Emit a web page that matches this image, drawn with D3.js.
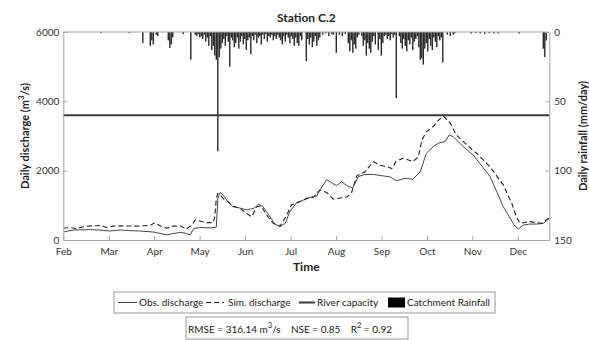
<!DOCTYPE html>
<html><head><meta charset="utf-8">
<script src="https://cdn.jsdelivr.net/npm/d3@7"></script>
<style>body{margin:0;background:#fff;} svg{display:block;font-family:Lato,"Noto Sans",sans-serif;}</style>
</head><body><svg id="c" width="589" height="340"></svg>
<script>
// ---------- data ----------
const months = ["Feb","Mar","Apr","May","Jun","Jul","Aug","Sep","Oct","Nov","Dec"];
const daysPerTick = 30.3;
const dayMax = 324;
const leftTicks = [0, 2000, 4000, 6000];
const rightTicks = [0, 50, 100, 150];
const riverCapacity = 3600;

const obsDay = [0,4.5,8,18,24.5,31,38,44.5,51,60,64.5,69,73,78,82,84.5,87,91,98,102,103,104.5,106.5,109,113,118,122,127,130,133,137,141,144.5,148,151,155.6,160,164.5,169,171,175.6,179,182,185.6,190,193,196.7,201,206.7,213,218,222,228,233,238,242,247,251,254.5,257.3,260,266.7,273.3,282,284.5,289,293.3,298,301,303.5,306.7,311,315.6,320,324];
const obsQ   = [230,270,290,300,285,260,290,270,260,230,190,150,180,220,190,150,330,360,350,370,1200,1370,1300,1150,960,920,870,910,1030,970,720,460,390,480,820,1080,1150,1230,1270,1440,1740,1650,1570,1680,1540,1510,1830,1890,1890,1850,1820,1710,1780,1750,1970,2500,2710,2810,2840,3030,2980,2690,2450,1970,1830,1390,960,620,400,320,430,460,460,480,620];

const simDay = [0,4.5,8,14.5,20,24.5,29,33,38,48,58,61,64.5,69,73,78,82,86,88,91,95.6,100,101,102,103,104.5,106.5,109,113,118,122,125.6,129,132,135.6,140,144.5,149,152,157.8,162,166.7,171,175.6,180,184.5,189,192,195.6,201,206.7,211,215.6,219,222,226.7,230,233,236.7,239,242,247,250,253.3,258,262,269,275.6,284.5,293.3,299,302,304.5,306.7,311,318.9,322,324];
const simQ   = [340,360,330,390,410,420,360,400,410,400,420,500,410,340,400,410,310,450,580,550,500,500,670,1200,1340,1300,1200,1130,980,910,770,670,960,980,720,480,400,720,1010,1100,1200,1230,1440,1370,1180,1210,1240,1340,1850,1960,2260,2160,2120,2060,2280,2360,2310,2260,2400,2880,3120,3290,3450,3580,3370,3030,2740,2500,2110,1590,1060,670,480,500,530,480,580,640];

const rainDay = [25,44,53,58,59,60,62,63,70,71,72,73,80,85,88,89,90,91,92,93,94,95,96,97,98,99,100,101,102,103,104,105,106,107,108,109,110,111,112,113,114,115,116,117,118,119,120,121,122,123,124,125,126,127,128,129,130,131,132,133,134,135,136,137,138,139,140,141,142,143,144,145,146,147,148,149,150,151,152,153,154,155,156,157,158,159,162,163,164,165,166,167,168,169,170,171,173,175,177,179,180,182,184,186,188,190,191,192,193,194,195,196,197,199,200,201,202,203,204,205,206,207,208,210,211,212,213,214,215,216,217,218,219,220,221,222,224,225,226,227,228,229,230,231,232,233,234,235,236,237,238,239,240,241,242,243,244,245,246,247,248,249,250,251,252,253,256,258,260,261,272,275,278,281,284,287,290,304,320,321,322];
const rainMm  = [0.8,0.8,8,10,6,9,2,3,6,11.5,9,4,1.5,20,2,3,1.5,4,3,5,2,7,4,10,3,13,10,17,20,86,18,12,8,5,10,3,7,25,4,6,11,8,4,12,7,3,9,5,13,6,4,16,3,6,2,8,4,3,9,2,5,1.5,7,3,4,2,6,3,5,2,4,6,9,3,7,2,4,8,3,5,10,4,8,10,3,6,21,5,9,4,11,7,3,10,6,4,2,1,3,1.5,2,15,2,3,1.5,8,14,6,15,9,12,4,2,3,10,6,17,8,12,15,7,3,9,13,5,17,8,3,2,5,3,6,1.5,4,2,47.6,3,8,12,5,10,14,6,9,4,13,7,5,3,11,20,19,23.5,12,8,14,5,10,13,4,7,11,3,6,4,22,2,3,2,1,1,0.8,1,1.5,0.8,1,1,1,12,18,6];

// ---------- layout ----------
const L = 63.3, R = 549.3, T = 32, B = 240;
const svg = d3.select("#c");
const x = d3.scaleLinear().domain([0, dayMax]).range([L, R]);
const y = d3.scaleLinear().domain([0, 6000]).range([B, T]);
const yR = d3.scaleLinear().domain([0, 150]).range([T, B]);
const axisCol = "#a6a6a6", txtCol = "#333";

svg.append("defs").append("clipPath").attr("id","clip")
  .append("rect").attr("x",L).attr("y",T).attr("width",R-L).attr("height",B-T);

// rainfall bars
svg.append("g").attr("clip-path","url(#clip)").selectAll("rect").data(rainDay.map((d,i)=>({d, v:rainMm[i]})))
  .join("rect")
  .attr("x", d => x(d.d) - 0.7).attr("width", 1.4)
  .attr("y", yR(0)).attr("height", d => yR(d.v) - yR(0))
  .attr("fill", "#2a2a2a");

// river capacity
svg.append("line").attr("x1",L).attr("x2",R).attr("y1",y(riverCapacity)).attr("y2",y(riverCapacity))
  .attr("stroke","#3a3a3a").attr("stroke-width",2);

const line = d3.line().x(d=>x(d[0])).y(d=>y(d[1]));
svg.append("path").datum(simDay.map((d,i)=>[d, simQ[i]])).attr("d", line)
  .attr("fill","none").attr("stroke","#222").attr("stroke-width",1.1).attr("stroke-dasharray","5,3").attr("clip-path","url(#clip)");
svg.append("path").datum(obsDay.map((d,i)=>[d, obsQ[i]])).attr("d", line)
  .attr("fill","none").attr("stroke","#333").attr("stroke-width",0.9).attr("clip-path","url(#clip)");

// axes
function style(g){
  g.selectAll(".domain").attr("stroke", axisCol);
  g.selectAll(".tick line").attr("stroke", axisCol);
  g.selectAll(".tick text").attr("fill", txtCol).attr("font-size", 10).attr("font-family","Lato, sans-serif");
}
svg.append("g").attr("transform",`translate(${L},0)`)
  .call(d3.axisLeft(y).tickValues(leftTicks).tickFormat(d3.format("d")).tickSizeInner(-4).tickSizeOuter(0).tickPadding(4)).call(style);
svg.append("g").attr("transform",`translate(${R},0)`)
  .call(d3.axisRight(yR).tickValues(rightTicks).tickFormat(d3.format("d")).tickSizeInner(-4).tickSizeOuter(0).tickPadding(5)).call(style);
svg.append("g").attr("transform",`translate(0,${B})`)
  .call(d3.axisBottom(x).tickValues(months.map((m,i)=>i*daysPerTick)).tickFormat((d,i)=>months[i])
        .tickSizeInner(-4).tickSizeOuter(0).tickPadding(8)).call(style);
svg.append("line").attr("x1",L).attr("x2",R).attr("y1",T).attr("y2",T).attr("stroke",axisCol);

// titles
svg.append("text").attr("x",(L+R)/2).attr("y",22).attr("text-anchor","middle")
  .attr("font-size",12).attr("font-weight",700).attr("fill","#222").text("Station C.2");
svg.append("text").attr("x",(L+R)/2).attr("y",271).attr("text-anchor","middle")
  .attr("font-size",12).attr("font-weight",700).attr("fill","#222").text("Time");
const yl = svg.append("text").attr("transform",`translate(29,${(T+B)/2}) rotate(-90)`).attr("text-anchor","middle")
  .attr("font-size",11).attr("font-weight",700).attr("fill","#222");
yl.append("tspan").text("Daily discharge (m");
yl.append("tspan").attr("dy",-5).attr("font-size",8).text("3");
yl.append("tspan").attr("dy",5).text("/s)");
svg.append("text").attr("transform",`translate(587,${(T+B)/2}) rotate(-90)`).attr("text-anchor","middle")
  .attr("font-size",11).attr("font-weight",700).attr("fill","#222").text("Daily rainfall (mm/day)");

// legend
const lg = svg.append("g").attr("font-size",10).attr("fill","#222");
lg.append("rect").attr("x",114).attr("y",292).attr("width",381).attr("height",21).attr("fill","#fff").attr("stroke","#999");
const ly = 302.5;
lg.append("line").attr("x1",118).attr("x2",137).attr("y1",ly).attr("y2",ly).attr("stroke","#333").attr("stroke-width",0.9);
lg.append("text").attr("x",139).attr("y",ly+3.5).text("Obs. discharge");
lg.append("line").attr("x1",206).attr("x2",224).attr("y1",ly).attr("y2",ly).attr("stroke","#222").attr("stroke-width",1.1).attr("stroke-dasharray","5,3");
lg.append("text").attr("x",228).attr("y",ly+3.5).text("Sim. discharge");
lg.append("line").attr("x1",299).attr("x2",315).attr("y1",ly).attr("y2",ly).attr("stroke","#3a3a3a").attr("stroke-width",2);
lg.append("text").attr("x",317).attr("y",ly+3.5).text("River capacity");
lg.append("rect").attr("x",388).attr("y",ly-5).attr("width",17).attr("height",10).attr("fill","#000");
lg.append("text").attr("x",407).attr("y",ly+3.5).text("Catchment Rainfall");

// stats box
const sg = svg.append("g").attr("font-size",10).attr("fill","#222");
sg.append("rect").attr("x",186).attr("y",317).attr("width",222).attr("height",22).attr("fill","#fff").attr("stroke","#999");
const st = sg.append("text").attr("x",188).attr("y",332.5).attr("xml:space","preserve");
st.append("tspan").text("RMSE = 316.14 m");
st.append("tspan").attr("dy",-5).attr("font-size",7.5).text("3");
st.append("tspan").attr("dy",5).text("/s    NSE = 0.85    R");
st.append("tspan").attr("dy",-5).attr("font-size",7.5).text("2");
st.append("tspan").attr("dy",5).text(" = 0.92");
</script>
</body></html>
